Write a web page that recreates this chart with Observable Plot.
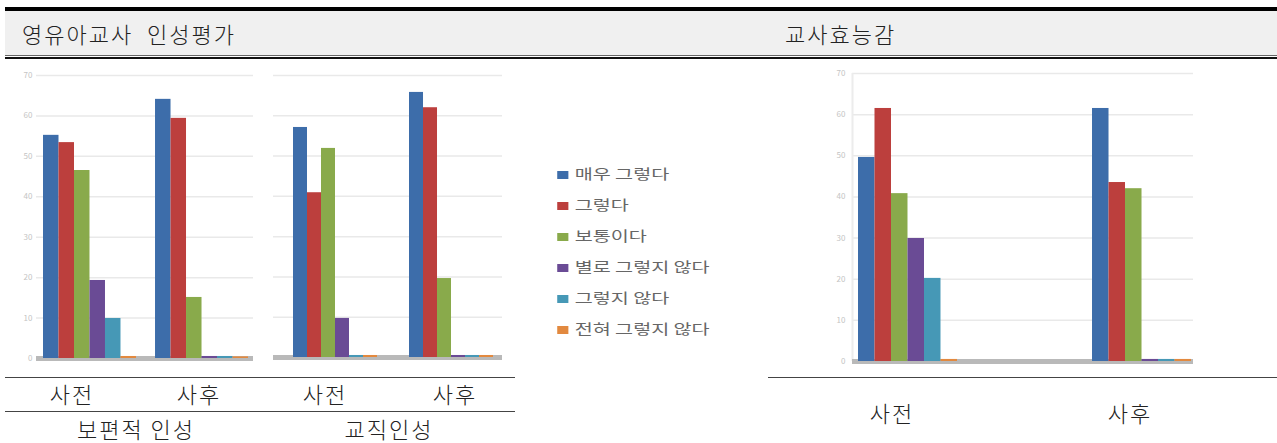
<!DOCTYPE html>
<html><head><meta charset="utf-8">
<script src="https://cdn.jsdelivr.net/npm/d3@7"></script>
<script src="https://cdn.jsdelivr.net/npm/@observablehq/plot@0.6"></script>
<style>
html,body{margin:0;padding:0;background:#fff;}
#page{position:relative;width:1277px;height:443px;overflow:hidden;font-family:'Noto Sans CJK KR','Noto Sans',sans-serif;color:#222;}
.abs{position:absolute;}
.lbl{position:absolute;font-size:22px;line-height:22px;font-weight:300;letter-spacing:2px;transform:translateX(-50%);white-space:pre;}
.ttl{position:absolute;font-size:22px;line-height:22px;font-weight:300;letter-spacing:2px;white-space:pre;}
</style></head><body>
<div id="page">
  <div class="abs" style="left:5px;top:7px;width:1272px;height:4px;background:#000"></div>
  <div class="abs" style="left:5px;top:11px;width:1272px;height:44px;background:#f0f0f0"></div>
  <div class="abs" style="left:5px;top:55px;width:1272px;height:1px;background:#666"></div>
  <div class="abs" style="left:5px;top:57px;width:1272px;height:2px;background:#111"></div>
  <div class="ttl" style="left:22px;top:22px">영유아교사  인성평가</div>
  <div class="ttl" style="left:785px;top:22px">교사효능감</div>

  <div class="abs" style="left:5px;top:377px;width:510px;height:1px;background:#444"></div>
  <div class="abs" style="left:5px;top:411px;width:510px;height:1px;background:#444"></div>
  <div class="abs" style="left:768px;top:377px;width:509px;height:1px;background:#444"></div>
  <div id="labels"></div>
  <div id="charts"></div>
</div>
<script>
// ---- data ----
const groups = ["사전", "사후"];
const series = ["매우 그렇다", "그렇다", "보통이다", "별로 그렇지 않다", "그렇지 않다", "전혀 그렇지 않다"];
const colors = ["#3D6DAA", "#BC3F3D", "#89AA4B", "#6A4B95", "#4698B6", "#E2893F"];
const yTicks = [0, 10, 20, 30, 40, 50, 60, 70];

const universalPre  = [55.2, 53.4, 46.5, 19.3, 9.9, 0.5];
const universalPost = [64.1, 59.4, 15.1, 0.5, 0.5, 0.4];
const professionalPre  = [57.1, 40.9, 51.9, 9.7, 0.5, 0.5];
const professionalPost = [65.8, 62.0, 19.6, 0.5, 0.5, 0.5];
const efficacyPre  = [49.6, 61.5, 40.8, 29.9, 20.2, 0.5];
const efficacyPost = [61.5, 43.5, 42.0, 0.5, 0.5, 0.5];

const subLabels = ["사전", "사후", "사전", "사후"];
const sectionLabels = ["보편적 인성", "교직인성"];
const efficacyLabels = ["사전", "사후"];

// ---- drawing ----
const FONT = "'Noto Sans CJK KR','Noto Sans',sans-serif";
const host = document.getElementById("charts");

function rowsFor(pre, post) {
  const vals = [pre, post];
  return groups.flatMap((g, gi) => series.map((s, si) => ({group: g, series: s, value: vals[gi][si]})));
}

function place(node, left, top, extra) {
  node.style.position = "absolute";
  node.style.left = left + "px";
  node.style.top = top + "px";
  node.style.maxWidth = "none";
  if (extra) Object.assign(node.style, extra);
  host.appendChild(node);
}

function chart(o) {
  const yScale = {domain: [0, 70], axis: null};
  const grid = Plot.plot({
    width: o.width, height: o.height,
    marginLeft: o.gridL, marginRight: o.gridR, marginTop: o.mt, marginBottom: o.mb,
    x: {domain: [0, 1], axis: null},
    y: yScale,
    style: {background: "transparent", fontFamily: FONT, overflow: "visible"},
    marks: [
      Plot.ruleY(yTicks.filter(d => d > 0), {stroke: "#e9e9e9", strokeWidth: 1.5}),
      o.yLabels ? Plot.text(yTicks, {y: d => d, text: d => String(d), frameAnchor: "left", textAnchor: "end", dx: o.labelDx, fontSize: 8, fill: "#c4c4c4"}) : null,
      o.axisLine ? Plot.ruleX([0], {stroke: "#ececec", strokeWidth: 2}) : null,
      Plot.ruleY([0], {stroke: "#b9b9b9", strokeWidth: 5})
    ]
  });
  place(grid, o.left, o.top);

  const bars = Plot.plot({
    width: o.width, height: o.height,
    marginLeft: o.barL, marginRight: o.barR, marginTop: o.mt, marginBottom: o.mb,
    fx: {domain: groups, axis: null, paddingInner: o.pi, paddingOuter: 0, round: false},
    x: {domain: series, axis: null, padding: 0, round: false},
    y: yScale,
    color: {domain: series, range: colors},
    style: {background: "transparent", fontFamily: FONT, overflow: "visible"},
    marks: [
      Plot.barY(o.rows, {fx: "group", x: "series", y: "value", fill: "series", inset: 0})
    ]
  });
  place(bars, o.left, o.top);
}

chart({left: 0, top: 60, width: 260, height: 310, gridL: 36, gridR: 7, barL: 43, barR: 12, mt: 15, mb: 12, pi: 0.17,
       rows: rowsFor(universalPre, universalPost), yLabels: true, labelDx: -4});
chart({left: 260, top: 60, width: 260, height: 310, gridL: 13, gridR: 18, barL: 33, barR: 27, mt: 15, mb: 13, pi: 0.276,
       rows: rowsFor(professionalPre, professionalPost), yLabels: false});
chart({left: 800, top: 60, width: 420, height: 310, gridL: 52, gridR: 27, barL: 58, barR: 29, mt: 13, mb: 9, pi: 0.577,
       rows: rowsFor(efficacyPre, efficacyPost), yLabels: true, labelDx: -7, axisLine: true});

// legend
const legend = Plot.plot({
  width: 150, height: 210,
  marginLeft: 6.5, marginRight: 0, marginTop: 8.5, marginBottom: 15.5,
  y: {type: "band", domain: series, axis: null, padding: 0},
  color: {domain: series, range: colors},
  style: {background: "transparent", fontFamily: FONT, overflow: "visible"},
  marks: [
    Plot.dot(series, {y: d => d, fill: d => d, symbol: "square", r: 4.5, frameAnchor: "left"}),
    Plot.text(series, {y: d => d, text: d => d, frameAnchor: "left", textAnchor: "start", dx: 8.5, fontSize: 14, fill: "#666"})
  ]
});
place(legend, 553, 150, {transform: "scaleX(1.4)", transformOrigin: "0 0"});

// table labels
const lab = document.getElementById("labels");
function addLabel(text, cx, top) {
  const d = document.createElement("div");
  d.className = "lbl";
  d.textContent = text;
  d.style.left = cx + "px";
  d.style.top = top + "px";
  lab.appendChild(d);
}
[72, 199, 325, 455].forEach((cx, i) => addLabel(subLabels[i], cx, 382));
[136, 389].forEach((cx, i) => addLabel(sectionLabels[i], cx, 417));
[892, 1130].forEach((cx, i) => addLabel(efficacyLabels[i], cx, 401));
</script>
</body></html>
